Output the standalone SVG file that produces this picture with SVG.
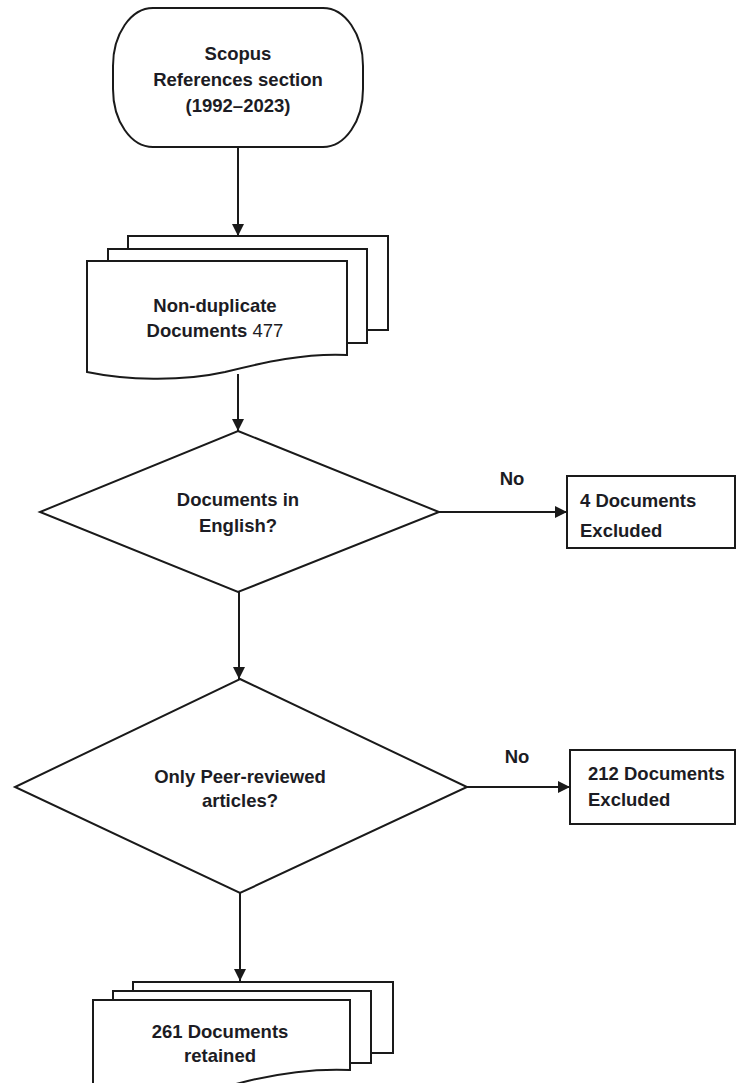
<svg xmlns="http://www.w3.org/2000/svg" width="737" height="1083" viewBox="0 0 737 1083">
<style>
.s{fill:#fff;stroke:#1a1a1a;stroke-width:2}
.t{font-family:"Liberation Sans",Arial,sans-serif;font-size:18.5px;font-weight:bold;fill:#1c1c24}
.c{text-anchor:middle}
.ln{stroke:#1a1a1a;stroke-width:2;fill:none}
</style>
<defs>
<marker id="ah" viewBox="0 0 12 12" refX="12" refY="6" markerWidth="12" markerHeight="12" markerUnits="userSpaceOnUse" orient="auto">
<path d="M0,0 L12,6 L0,12 Z" fill="#1a1a1a"/>
</marker>
</defs>
<rect width="737" height="1083" fill="#fff"/>
<g id="connectors">
<line class="ln" x1="238" y1="147" x2="238" y2="236" marker-end="url(#ah)"/>
<line class="ln" x1="238" y1="374" x2="238" y2="431" marker-end="url(#ah)"/>
<line class="ln" x1="439" y1="512" x2="567" y2="512" marker-end="url(#ah)"/>
<line class="ln" x1="239" y1="592" x2="239" y2="679" marker-end="url(#ah)"/>
<line class="ln" x1="467" y1="787" x2="570" y2="787" marker-end="url(#ah)"/>
<line class="ln" x1="240" y1="893" x2="240" y2="981" marker-end="url(#ah)"/>
<text class="t c" x="512" y="485">No</text>
<text class="t c" x="517" y="763">No</text>
</g>
<g id="start">
<rect class="s" x="113" y="8" width="250" height="139" rx="40" ry="58"/>
<text class="t c" x="238" y="60">Scopus</text>
<text class="t c" x="238" y="86">References section</text>
<text class="t c" x="238" y="112">(1992–2023)</text>
</g>
<g id="nondup">
<rect class="s" x="128" y="236" width="260" height="94"/>
<rect class="s" x="108" y="249" width="259" height="94"/>
<path class="s" d="M87,261 H347 V355 C305,353 265,362 225,372 C180,382 125,380 87,372 Z"/>
<text class="t c" x="215" y="312">Non-duplicate</text>
<text class="t c" x="215" y="337">Documents <tspan font-weight="normal">477</tspan></text>
</g>
<g id="english">
<polygon class="s" points="238,431 439,512 238,592 40,512"/>
<text class="t c" x="238" y="506">Documents in</text>
<text class="t c" x="238" y="532">English?</text>
</g>
<g id="excl4">
<rect class="s" x="567" y="476" width="168" height="72"/>
<text class="t" x="580" y="507">4 Documents</text>
<text class="t" x="580" y="537">Excluded</text>
</g>
<g id="peer">
<polygon class="s" points="240,679 467,787 240,893 15,787"/>
<text class="t c" x="240" y="783">Only Peer-reviewed</text>
<text class="t c" x="240" y="807">articles?</text>
</g>
<g id="excl212">
<rect class="s" x="570" y="750" width="165" height="74"/>
<text class="t" x="588" y="780">212 Documents</text>
<text class="t" x="588" y="806">Excluded</text>
</g>
<g id="retained">
<rect class="s" x="133" y="982" width="260" height="71"/>
<rect class="s" x="113" y="991" width="258" height="72"/>
<path class="s" d="M93,1000 H350 V1070 C305,1068 262,1076 222,1088 C175,1100 125,1098 93,1092 Z"/>
<text class="t c" x="220" y="1038">261 Documents</text>
<text class="t c" x="220" y="1062">retained</text>
</g>
</svg>
